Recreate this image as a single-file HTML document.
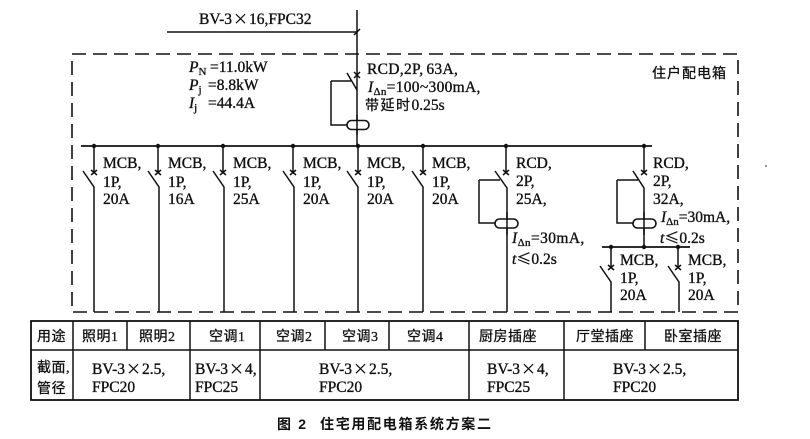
<!DOCTYPE html>
<html><head><meta charset="utf-8"><style>
html,body{margin:0;padding:0;background:#fff}
svg{display:block;filter:blur(.3px)}
text{font-family:"Liberation Serif","Noto Serif CJK SC",serif;font-size:15.5px;fill:#111;stroke:#111;stroke-width:.35}
.c{font-family:"Liberation Serif","Noto Sans CJK SC",sans-serif;font-size:14px;letter-spacing:.5px;stroke-width:.3}
.i{font-style:italic}
.s{font-size:11px}
.x{font-family:"Noto Sans CJK SC",sans-serif;font-size:15px;stroke-width:.2}
.l{stroke:#111;stroke-width:1.5;fill:none}
.b{stroke:#111;stroke-width:1.8;fill:none}
</style></head><body>
<svg width="810" height="439" viewBox="0 0 810 439" xmlns="http://www.w3.org/2000/svg">
<rect x="72" y="54" width="666" height="258" fill="none" stroke="#111" stroke-width="1.6" stroke-dasharray="14 7"/>
<path class="l" d="M167 32H357M357 10V146M354 35L360 29"/>
<path class="l" d="M347 73L357 90M331 81H351M331 81V125H347M354 72L360 78M360 72L354 78"/>
<rect x="347" y="120.500" width="22" height="9" rx="4.500" fill="#fff" stroke="#111" stroke-width="1.600"/>
<path class="l" d="M357 115V135"/>
<path class="b" d="M81 146H652"/>
<g fill="#111">
<circle cx="94" cy="146" r="2.200"/><circle cx="158" cy="146" r="2.200"/><circle cx="223" cy="146" r="2.200"/><circle cx="293" cy="146" r="2.200"/><circle cx="358" cy="146" r="2.200"/><circle cx="423" cy="146" r="2.200"/><circle cx="506" cy="146" r="2.200"/><circle cx="644" cy="146" r="2.200"/><circle cx="611" cy="247" r="2.200"/><circle cx="644" cy="247" r="2.200"/><circle cx="678" cy="247" r="2.200"/>
<circle cx="766" cy="166" r=".8"/>
</g>
<path class="l" d="M94 146V172M91 170L97 175M97 170L91 175M83 171L94 187V312"/>
<path class="l" d="M158 146V172M155 170L161 175M161 170L155 175M148 171L159 187V312"/>
<path class="l" d="M223 146V172M220 170L226 175M226 170L220 175M213 171L224 187V312"/>
<path class="l" d="M293 146V172M290 170L296 175M296 170L290 175M283 171L294 187V312"/>
<path class="l" d="M358 146V172M355 170L361 175M361 170L355 175M347 171L358 187V312"/>
<path class="l" d="M423 146V172M420 170L426 175M426 170L420 175M412 171L423 187V312"/>
<path class="l" d="M506 146V172M503 170L509 175M509 170L503 175M495 171L507 188V312M479 180H500M479 180V223H495"/>
<rect x="495" y="219" width="23" height="9" rx="4.500" fill="#fff" stroke="#111" stroke-width="1.600"/>
<path class="l" d="M507 212V235"/>
<path class="l" d="M644 146V172M641 170L647 175M647 170L641 175M633 171L644 188V247M617 180H638M617 180V223H633"/>
<rect x="633" y="219" width="23" height="9" rx="4.500" fill="#fff" stroke="#111" stroke-width="1.600"/>
<path class="l" d="M644 212V235"/>
<path class="b" d="M602 247H690"/>
<path class="l" d="M611 247V267M608 265L614 270M614 265L608 270M600 266L611 282V312"/>
<path class="l" d="M678 247V267M675 265L681 270M681 265L675 270M668 266L679 282V312"/>

<text x="199" y="24">BV-3<tspan class="x" dx="1">×</tspan><tspan dx="1">16,FPC32</tspan></text>
<text x="189" y="72"><tspan class="i">P</tspan><tspan class="s" dy="3">N</tspan><tspan dy="-3" x="210">=11.0kW</tspan></text>
<text x="189" y="90"><tspan class="i">P</tspan><tspan class="s" dy="3">j</tspan><tspan dy="-3" x="208">=8.8kW</tspan></text>
<text x="189" y="108"><tspan class="i">I</tspan><tspan class="s" dy="3">j</tspan><tspan dy="-3" x="208">=44.4A</tspan></text>
<text x="367" y="74" style="letter-spacing:.3px">RCD,2P,<tspan dx="3">63A,</tspan></text>
<text x="368" y="92" style="letter-spacing:.3px"><tspan class="i">I</tspan><tspan class="s" dy="3">Δn</tspan><tspan dy="-3">=100~300mA,</tspan></text>
<text x="365" y="110" class="c" style="letter-spacing:1.5px">带延时<tspan style="font-size:15.5px;letter-spacing:0">0.25s</tspan></text>
<text x="652" y="78" class="c" style="letter-spacing:1px">住户配电箱</text>

<g>
<text x="103" y="168">MCB,</text><text x="103" y="187">1P,</text><text x="103" y="204">20A</text>
<text x="168" y="168">MCB,</text><text x="168" y="187">1P,</text><text x="168" y="204">16A</text>
<text x="233" y="168">MCB,</text><text x="233" y="187">1P,</text><text x="233" y="204">25A</text>
<text x="303" y="168">MCB,</text><text x="303" y="187">1P,</text><text x="303" y="204">20A</text>
<text x="367" y="168">MCB,</text><text x="367" y="187">1P,</text><text x="367" y="204">20A</text>
<text x="432" y="168">MCB,</text><text x="432" y="187">1P,</text><text x="432" y="204">20A</text>
<text x="516" y="168">RCD,</text><text x="516" y="186">2P,</text><text x="516" y="204">25A,</text>
<text x="512" y="243" style="letter-spacing:.4px"><tspan class="i">I</tspan><tspan class="s" dy="3">Δn</tspan><tspan dy="-3">=30mA,</tspan></text>
<text x="512" y="264"><tspan class="i">t</tspan><tspan class="x">≤</tspan>0.2s</text>
<text x="653" y="168">RCD,</text><text x="653" y="186">2P,</text><text x="653" y="204">32A,</text>
<text x="661" y="222"><tspan class="i">I</tspan><tspan class="s" dy="3">Δn</tspan><tspan dy="-3">=30mA,</tspan></text>
<text x="660" y="243"><tspan class="i">t</tspan><tspan class="x">≤</tspan>0.2s</text>
<text x="620" y="265">MCB,</text><text x="620" y="283">1P,</text><text x="620" y="300">20A</text>
<text x="688" y="265">MCB,</text><text x="688" y="283">1P,</text><text x="688" y="300">20A</text>
</g>

<rect x="31" y="321" width="707" height="79" fill="none" stroke="#111" stroke-width="1.800"/>
<path class="l" d="M31 350H738M73 321V400M127 321V350M190 321V400M260 321V400M325 321V350M389 321V350M469 321V400M564 321V400M645 321V350"/>
<text class="c" x="37" y="341">用途</text>
<text class="c" x="82" y="341">照明1</text>
<text class="c" x="139" y="341">照明2</text>
<text class="c" x="209" y="341">空调1</text>
<text class="c" x="276" y="341">空调2</text>
<text class="c" x="342" y="341">空调3</text>
<text class="c" x="407" y="341">空调4</text>
<text class="c" x="479" y="341">厨房插座</text>
<text class="c" x="576" y="341">厅堂插座</text>
<text class="c" x="664" y="341">卧室插座</text>
<text class="c" x="37" y="372">截面,</text>
<text class="c" x="37" y="393">管径</text>
<text x="92" y="374">BV-3<tspan class="x" dx="1">×</tspan><tspan dx="1">2.5,</tspan></text><text x="92" y="392">FPC20</text>
<text x="195" y="374">BV-3<tspan class="x" dx="1">×</tspan><tspan dx="1">4,</tspan></text><text x="195" y="392">FPC25</text>
<text x="319" y="374">BV-3<tspan class="x" dx="1">×</tspan><tspan dx="1">2.5,</tspan></text><text x="319" y="392">FPC20</text>
<text x="487" y="374">BV-3<tspan class="x" dx="1">×</tspan><tspan dx="1">4,</tspan></text><text x="487" y="392">FPC25</text>
<text x="613" y="374">BV-3<tspan class="x" dx="1">×</tspan><tspan dx="1">2.5,</tspan></text><text x="613" y="392">FPC20</text>
<text x="277" y="429" style="font-family:'Liberation Sans','Noto Sans CJK SC',sans-serif;font-size:14px;font-weight:bold;letter-spacing:1.7px;stroke-width:0">图 2<tspan x="320">住宅用配电箱系统方案二</tspan></text>
</svg>
</body></html>
